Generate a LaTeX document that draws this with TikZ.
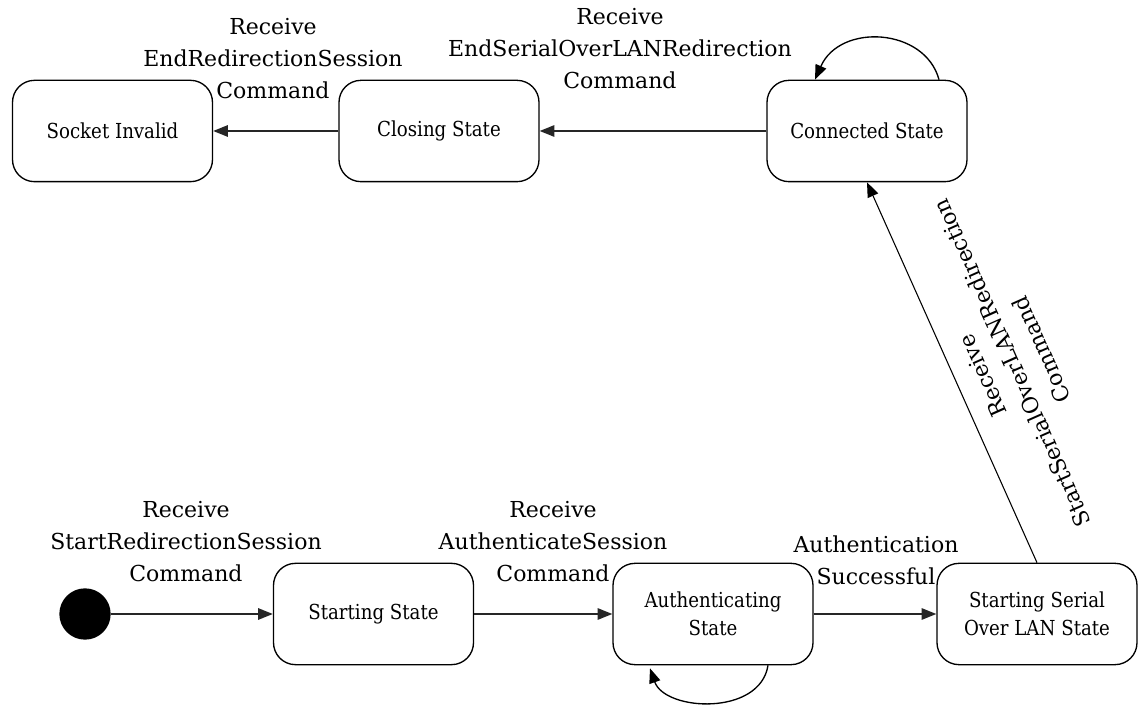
\documentclass[tikz,border=0pt]{standalone}
\usepackage{fontspec}
\setmainfont{DejaVu Serif}
\newfontfamily\statefont[FakeStretch=0.88]{DejaVu Serif}
\usetikzlibrary{arrows.meta,calc}

\begin{document}
\begin{tikzpicture}[x=0.75pt,y=-0.75pt,
  state/.style={draw,line width=1pt,rounded corners=16.5pt,minimum width=150pt,
    minimum height=76pt,inner sep=0pt,align=center,
    font=\statefont\fontsize{15.5}{21}\selectfont},
  trans/.style={align=center,font=\fontsize{16.5}{24}\selectfont},
  tip/.style={-{Triangle[length=11pt,width=8.5pt]}},
  arr/.style={tip,line width=1.3pt,draw=black!85},
  arrthin/.style={tip,line width=0.8pt},
  loop/.style={tip,line width=1pt}]
\useasboundingbox (0,0) rectangle (1139,705);

% states
\node[state] (sock)  at (112.5,131) {Socket Invalid};
\node[state] (clo)   at (439,131)   {Closing State};
\node[state] (con)   at (867,131)   {Connected State};
\node[state] (start) at (373.5,614) {Starting State};
\node[state] (auth)  at (713,614)   {Authenticating\\State};
\node[state] (ss)    at (1037,614)  {Starting Serial\\Over LAN State};
\node[circle,fill=black,minimum size=38.5pt,inner sep=0pt] (init) at (85,614) {};

% transitions
\draw[arr] (init) -- (start);
\draw[arr] (start) -- (auth);
\draw[arr] (auth) -- (ss);
\draw[arrthin] (ss.north) -- (con.south);
\draw[arr] (con) -- (clo);
\draw[arr] (clo) -- (sock);

% self loops
\draw[loop] ($(con.north)+(72,0)$) .. controls ($(con.north)+(58,-52)$) and ($(con.north)+(-27,-57)$) .. ($(con.north)+(-52,0)$);
\draw[loop] ($(auth.south)+(55,0)$) .. controls ($(auth.south)+(47,51)$) and ($(auth.south)+(-48,46)$) .. ($(auth.south)+(-63,3)$);

% transition labels
\node[trans] (l1) at (186,542) {Receive\\StartRedirectionSession\\Command};
\node[trans] (l2) at (553,542) {Receive\\AuthenticateSession\\Command};
\node[trans] (l3) at (876,560) {Authentication\\Successful};
\node[trans] (l4) at (273,59)  {Receive\\EndRedirectionSession\\Command};
\node[trans] (l5) at (620,49)  {Receive\\EndSerialOverLANRedirection\\Command};
\node[trans,rotate=114] (l6) at (1012,363) {Receive\\StartSerialOverLANRedirection\\Command};
\end{tikzpicture}
\end{document}
